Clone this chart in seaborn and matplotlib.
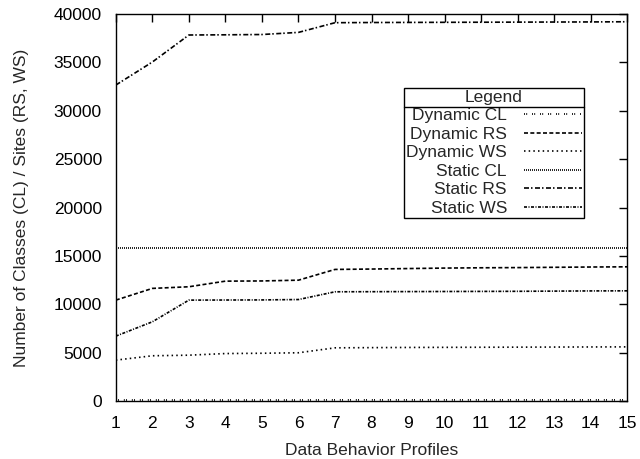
import matplotlib
matplotlib.use("Agg")
import matplotlib.pyplot as plt
import seaborn as sns
import numpy as np
from matplotlib.lines import Line2D

profiles = list(range(1, 16))

dynamic_cl = [120, 120, 120, 120, 120, 120, 130, 130, 130, 130, 130, 130, 130, 130, 130]
dynamic_rs = [10440, 11650, 11820, 12400, 12420, 12500, 13610, 13650, 13700, 13750, 13780, 13800, 13830, 13860, 13880]
dynamic_ws = [4240, 4690, 4750, 4920, 4950, 5000, 5510, 5530, 5550, 5560, 5570, 5580, 5590, 5600, 5610]
static_cl = [15800] * 15
static_rs = [32660, 35040, 37830, 37850, 37880, 38100, 39100, 39120, 39130, 39140, 39150, 39160, 39170, 39180, 39200]
static_ws = [6720, 8200, 10440, 10450, 10460, 10500, 11300, 11310, 11320, 11330, 11340, 11350, 11370, 11390, 11400]

labels = ["Dynamic CL", "Dynamic RS", "Dynamic WS", "Static CL", "Static RS", "Static WS"]
values = [dynamic_cl, dynamic_rs, dynamic_ws, static_cl, static_rs, static_ws]
# gnuplot-like dash patterns (in units of line width)
styles = [
    (0, (0.6, 0.7, 0.6, 2.9)),
    (0, (2.4, 1.4)),
    (0, (0.9, 1.9)),
    (0, (0.6, 0.6)),
    (0, (3.0, 1.2, 0.9, 1.5)),
    (0, (1.8, 0.9, 0.6, 0.9)),
]

sns.set_style("white")
plt.rcParams['font.family'] = ['Liberation Sans', 'DejaVu Sans']
plt.rcParams['font.size'] = 12.5

fig = plt.figure(figsize=(6.4, 4.59), dpi=100)
ax = fig.add_axes([0.181, 0.126, 0.799, 0.8435])

for name, vals, ls in zip(labels, values, styles):
    sns.lineplot(x=profiles, y=vals, color="black", lw=1.2, linestyle=ls, label=name, ax=ax)

ax.set_xlim(1, 15)
ax.set_ylim(0, 40000)
ax.set_xticks(profiles)
ax.set_yticks(np.arange(0, 40001, 5000))
ax.tick_params(direction="in", length=6, width=1, top=True, right=True,
               labelsize=12.5, colors="black")
ax.tick_params(axis="x", pad=11)
ax.tick_params(axis="y", pad=10)
for sp in ax.spines.values():
    sp.set_color("black")
    sp.set_linewidth(1)

ax.set_xlabel("Data Behavior Profiles", fontsize=12.5, labelpad=8)
ax.set_ylabel("Number of Classes (CL) / Sites (RS, WS)", fontsize=12.5, labelpad=18)

leg = ax.legend(title="Legend", loc="upper left", bbox_to_anchor=(0.5636, 0.809),
                markerfirst=False, fancybox=False, edgecolor="black", framealpha=1,
                borderpad=0.12, labelspacing=0.19, handlelength=3.3, handletextpad=1.0,
                borderaxespad=0, fontsize=12.5, title_fontsize=12.5)
leg.get_frame().set_linewidth(1)

# separator line under the legend title, like gnuplot draws it
fig.canvas.draw()
fb = leg.get_frame().get_window_extent()
tb = leg.get_title().get_window_extent()
first = leg.get_texts()[0].get_window_extent()
ysep = (tb.y0 + first.y1) / 2
inv = fig.transFigure.inverted()
x0, y0 = inv.transform((fb.x0, ysep))
x1, _ = inv.transform((fb.x1, ysep))
fig.add_artist(Line2D([x0, x1], [y0, y0], color="black", lw=1, zorder=10))

fig.savefig("out.png", dpi=100)
